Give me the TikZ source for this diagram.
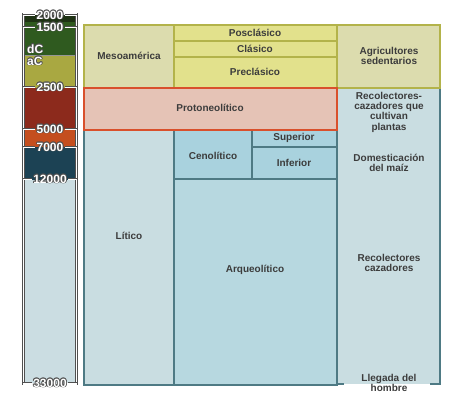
\documentclass[tikz,border=0pt]{standalone}
\usepackage{fontspec}
\setmainfont{Liberation Sans}
\definecolor{txt}{HTML}{3C3C3C}
\definecolor{halo}{HTML}{505050}
\definecolor{yelF}{HTML}{E2E18C}
\definecolor{mesoF}{HTML}{DCDCAE}
\definecolor{olv}{HTML}{B3B34A}
\definecolor{protoF}{HTML}{E5C3B6}
\definecolor{protoD}{HTML}{D9502C}
\definecolor{ltF}{HTML}{C9DDE1}
\definecolor{midF}{HTML}{A9D2DE}
\definecolor{arqF}{HTML}{B7D8E0}
\definecolor{tealD}{HTML}{4E7A84}
\definecolor{cDark}{HTML}{1E3214}
\definecolor{cGreen}{HTML}{2F5A1F}
\definecolor{cOlive}{HTML}{A9A841}
\definecolor{cRed}{HTML}{8C2A1C}
\definecolor{cOrange}{HTML}{C44E1E}
\definecolor{cTeal}{HTML}{1C4254}
\definecolor{cLight}{HTML}{CBDDE2}
\tikzset{
  lab/.style={text=txt, font=\bfseries\fontsize{10}{10.3}\selectfont, align=center, inner sep=1pt},
  yrtxt/.style={font=\bfseries\fontsize{12}{12}\selectfont, inner sep=1pt},
  yelbox/.style={draw=olv, line width=1.4pt, fill=yelF},
  mesobox/.style={draw=olv, line width=1.4pt, fill=mesoF},
  bluebox/.style={draw=tealD, line width=1.4pt},
  tick/.style={draw=halo, double=white, double distance=0.9pt, line width=0.5pt},
}
\newcommand\yrlab[3]{%
  \foreach \dx/\dy in {-0.8/0,0.8/0,0/-0.8,0/0.8,-0.6/-0.6,0.6/-0.6,-0.6/0.6,0.6/0.6}{%
    \node[yrtxt, text=halo] at ([shift={(\dx,\dy)}]50,#2) {#3};}%
  \node[yrtxt, text=white] (#1) at (50,#2) {#3};%
  \draw[tick] (22.5,#2) -- (#1.west);
  \draw[tick] (#1.east) -- (76.5,#2);
}
\newcommand\sidelab[3]{%
  \foreach \dx/\dy in {-0.7/0,0.7/0,0/-0.7,0/0.7,-0.5/-0.5,0.5/-0.5,-0.5/0.5,0.5/0.5}{%
    \node[yrtxt, text=halo, anchor=west] at ([shift={(\dx,\dy)}]26,#2) {#3};}%
  \node[yrtxt, text=white, anchor=west] (#1) at (26,#2) {#3};%
}
\begin{document}
\begin{tikzpicture}[x=1pt,y=-1pt]
\useasboundingbox (0,0) rectangle (457,401);
% ---- timeline bar ----
\fill[cDark] (24,13) rectangle (76,22);
\fill[cGreen] (24,22) rectangle (76,55);
\fill[cOlive] (24,56) rectangle (76,88);
\fill[cRed] (24,88) rectangle (76,129);
\fill[cOrange] (24,129) rectangle (76,147);
\fill[cTeal] (24,147) rectangle (76,180);
\fill[cLight] (24,180) rectangle (76,384);
\draw[halo!60, line width=0.8pt] (24,55.5) -- (76,55.5);
\draw[draw=halo, double=white, double distance=1.2pt, line width=0.6pt] (23.5,14) rectangle (76.5,384);
\sidelab{dC}{49}{dC}
\sidelab{aC}{61}{aC}
\yrlab{y2000}{15}{2000}
\yrlab{y1500}{27}{1500}
\yrlab{y2500}{87}{2500}
\yrlab{y5000}{129}{5000}
\yrlab{y7000}{147}{7000}
\yrlab{y12000}{179}{12000}
\yrlab{y33000}{383}{33000}
% ---- blue boxes ----
\path[bluebox, fill=ltF] (84,130) rectangle (174,385);
\path[bluebox, fill=arqF] (174,179) rectangle (337,385);
\path[bluebox, fill=midF] (174,130) rectangle (252,179);
\path[bluebox, fill=midF] (252,130) rectangle (337,147);
\path[bluebox, fill=midF] (252,147) rectangle (337,179);
\fill[ltF] (337,88) rectangle (440,384);
\draw[tealD, line width=1.4pt] (344,384) -- (337,384) -- (337,88) -- (440,88) -- (440,384) -- (430,384);
% ---- yellow boxes ----
\path[mesobox] (84,25) rectangle (174,88);
\path[yelbox] (174,25) rectangle (337,41);
\path[yelbox] (174,41) rectangle (337,57);
\path[yelbox] (174,57) rectangle (337,88);
\path[mesobox] (337,25) rectangle (440,88);
% ---- protoneolitico ----
\path[draw=protoD, line width=1.8pt, fill=protoF] (84,88) rectangle (337,130);
% ---- labels ----
\node[lab] (meso) at (129,56) {Mesoamérica};
\node[lab] (posc) at (255,33) {Posclásico};
\node[lab] (clas) at (255,49) {Clásico};
\node[lab] (prec) at (255,72) {Preclásico};
\node[lab] (agri) at (389,56) {Agricultores\\sedentarios};
\node[lab] (proto) at (210,108) {Protoneolítico};
\node[lab] (reccult) at (389,112) {Recolectores-\\cazadores que\\cultivan\\plantas};
\node[lab] (ceno) at (213,156) {Cenolítico};
\node[lab] (sup) at (294,138) {Superior};
\node[lab] (inf) at (294,163) {Inferior};
\node[lab] (dom) at (389,163) {Domesticación\\del maíz};
\node[lab] (lit) at (129,236) {Lítico};
\node[lab] (arq) at (255,270) {Arqueolítico};
\node[lab] (reccaz) at (389,263) {Recolectores\\cazadores};
\node[lab] (lleg) at (389,383) {Llegada del\\hombre};
\end{tikzpicture}
\end{document}
